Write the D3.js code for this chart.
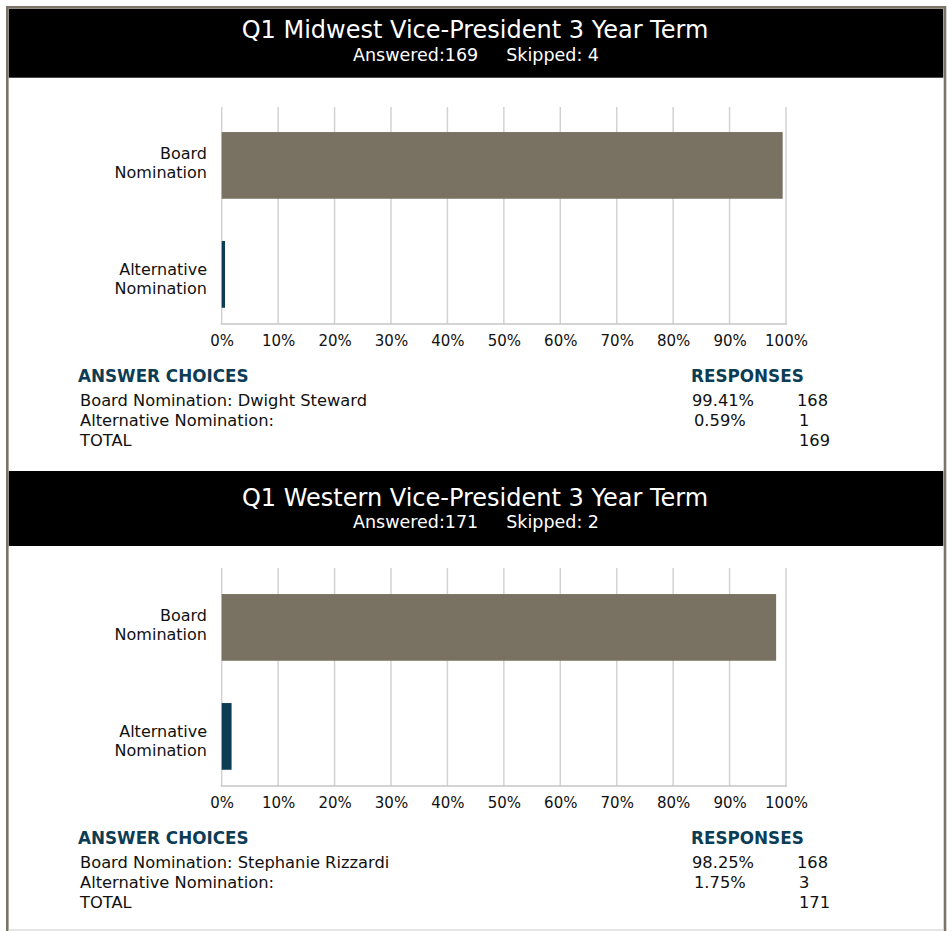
<!DOCTYPE html>
<html lang="en">
<head>
    <meta charset="UTF-8">
    <title>Vice-President nominations</title>
    <script src="https://cdn.jsdelivr.net/npm/d3@7"></script>
    <style>
        body { margin: 0; background: #fff; }
        text { font-family: "DejaVu Sans", sans-serif; }
    </style>
</head>
<body>
<svg width="947" height="931"></svg>

<script>
    // data
    var titles = ['Q1 Midwest Vice-President 3 Year Term', 'Q1 Western Vice-President 3 Year Term'];
    var answered = [169, 171];
    var skipped = [4, 2];
    var categories = ['Board Nomination', 'Alternative Nomination'];
    var nominees = ['Dwight Steward', 'Stephanie Rizzardi'];
    var percents = [[99.41, 0.59], [98.25, 1.75]];
    var counts = [[168, 1], [168, 3]];
    var tickValues = [0, 10, 20, 30, 40, 50, 60, 70, 80, 90, 100];

    var svg = d3.select('svg');
    var colors = ['#797262', '#0d3c55'];
    var frameColor = '#7b7363';
    var navy = '#0d3c55';

    // layout of each panel (top of header, header height, top of grid)
    var panels = [
        {top: 8.7, headH: 69, gridTop: 107, base: 324},
        {top: 471, headH: 75, gridTop: 568, base: 786}
    ];

    var x = d3.scaleLinear()
        .domain([0, 100])
        .range([221.7, 786]);

    panels.forEach(function (p, k) {
        var g = svg.append('g');

        // black header
        g.append('rect')
            .attr('x', 8.7).attr('y', p.top)
            .attr('width', 943.3 - 8.7).attr('height', p.headH)
            .attr('fill', '#000');

        var cy = p.top + (k === 0 ? 20.5 : 26);
        g.append('text')
            .attr('x', 475).attr('y', cy + 8.6)
            .attr('text-anchor', 'middle')
            .attr('fill', '#fff')
            .style('font-size', '24px')
            .text(titles[k]);

        var sub = g.append('text')
            .attr('x', 476).attr('y', cy + 25 + 6.3)
            .attr('text-anchor', 'middle')
            .attr('fill', '#fff')
            .style('font-size', '17.5px');
        sub.append('tspan').text('Answered:' + answered[k]);
        sub.append('tspan').attr('dx', 28).text('Skipped: ' + skipped[k]);

        // bars
        var y = d3.scaleBand()
            .domain(categories)
            .range([p.base - 213.1, p.base + 4.9])
            .paddingInner(0.388)
            .paddingOuter(0.194);

        g.append('g').selectAll('line')
            .data(tickValues)
            .enter().append('line')
            .attr('x1', function (d) { return x(d); })
            .attr('x2', function (d) { return x(d); })
            .attr('y1', p.gridTop)
            .attr('y2', p.base)
            .attr('stroke', '#d2d2d2')
            .attr('stroke-width', 1.5);

        g.append('line')
            .attr('x1', x(0) - 1).attr('x2', x(100) + 1)
            .attr('y1', p.base).attr('y2', p.base)
            .attr('stroke', '#c6c6c6')
            .attr('stroke-width', 1.5);

        g.append('g').selectAll('rect')
            .data(percents[k])
            .enter().append('rect')
            .attr('x', x(0))
            .attr('y', function (d, i) { return y(categories[i]); })
            .attr('width', function (d) { return x(d) - x(0); })
            .attr('height', y.bandwidth())
            .attr('fill', function (d, i) { return colors[i]; });

        // x axis labels
        var axis = d3.axisBottom(x)
            .tickValues(tickValues)
            .tickSize(0)
            .tickPadding(11)
            .tickFormat(function (d) { return d + '%'; });
        var ax = g.append('g')
            .attr('transform', 'translate(0,' + p.base + ')')
            .call(axis);
        ax.select('.domain').remove();
        ax.selectAll('text')
            .attr('fill', '#111')
            .style('font-size', '15px')
            .style('font-family', '"DejaVu Sans", sans-serif');

        // category labels, two lines each (they sit a little apart from the bar centres)
        var labelShift = [-3, 4.5];
        categories.forEach(function (c, i) {
            var words = c.split(' ');
            var t = g.append('text')
                .attr('text-anchor', 'end')
                .attr('fill', '#111')
                .style('font-size', '16px');
            words.forEach(function (w, j) {
                t.append('tspan')
                    .attr('x', 207)
                    .attr('y', y(c) + y.bandwidth() / 2 + labelShift[i] + (j - 0.5) * 19 + 5.8)
                    .text(w);
            });
        });

        // answer table
        var tTop = p.base + 52;
        g.append('text')
            .attr('x', 78).attr('y', tTop + 6.2)
            .attr('fill', navy)
            .style('font-size', '16.8px')
            .style('font-weight', 'bold')
            .text('ANSWER CHOICES');
        g.append('text')
            .attr('x', 691).attr('y', tTop + 6.2)
            .attr('fill', navy)
            .style('font-size', '16.8px')
            .style('font-weight', 'bold')
            .text('RESPONSES');

        var rows = [
            [categories[0] + ': ' + nominees[k], percents[k][0].toFixed(2) + '%', counts[k][0]],
            [categories[1] + ':', percents[k][1].toFixed(2) + '%', counts[k][1]],
            ['TOTAL', '', d3.sum(counts[k])]
        ];
        rows.forEach(function (r, i) {
            var ry = tTop + 24 + i * 20 + 6;
            g.append('text').attr('x', 80).attr('y', ry)
                .attr('fill', '#111').style('font-size', '16.3px').text(r[0]);
            g.append('text').attr('x', i === 1 ? 694 : 692).attr('y', ry)
                .attr('fill', '#111').style('font-size', '16.3px').text(r[1]);
            g.append('text').attr('x', i === 0 ? 797 : 799).attr('y', ry)
                .attr('fill', '#111').style('font-size', '16.3px').text(r[2]);
        });
    });

    // outer frame
    svg.append('path')
        .attr('d', 'M7.3,931 V7.3 H945 V931')
        .attr('fill', 'none')
        .attr('stroke', frameColor)
        .attr('stroke-width', 2.6);
    svg.append('line')
        .attr('x1', 8.6).attr('x2', 943.6)
        .attr('y1', 930).attr('y2', 930)
        .attr('stroke', '#dcdcdc')
        .attr('stroke-width', 1.5);
</script>
</body>
</html>
